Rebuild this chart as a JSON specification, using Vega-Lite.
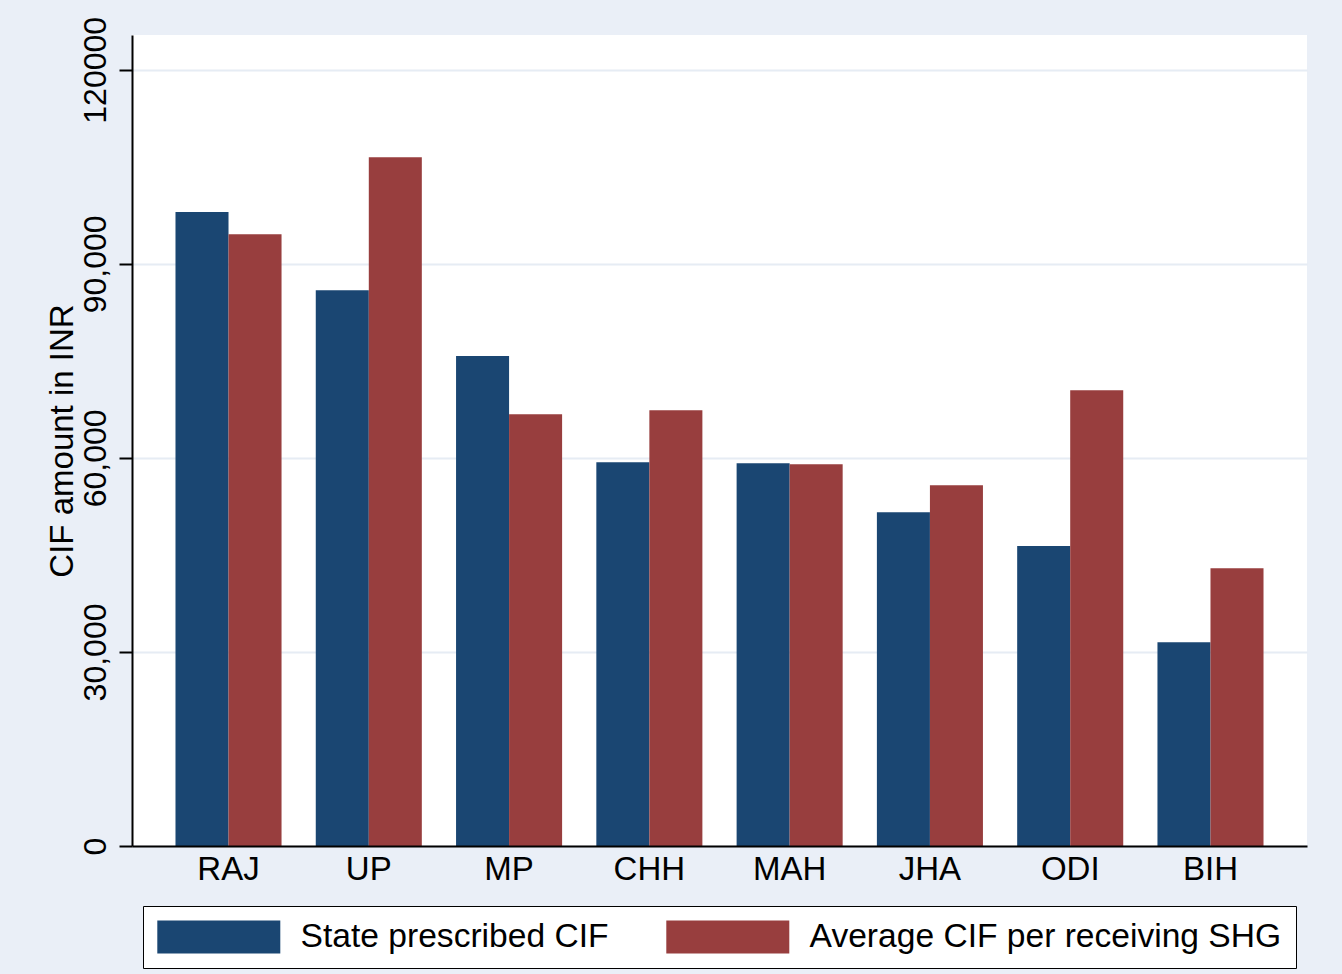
{
  "$schema": "https://vega.github.io/schema/vega-lite/v6.json",
  "width": 1175,
  "height": 811,
  "autosize": {"type": "none"},
  "padding": {"left": 132, "top": 35, "right": 35, "bottom": 128},
  "background": "#EAEFF7",
  "view": {"fill": "white", "stroke": null},
  "config": {"font": "Liberation Sans"},
  "data": {
    "values": [
      {"state": "RAJ", "series": "State prescribed CIF", "value": 98000},
      {"state": "RAJ", "series": "Average CIF per receiving SHG", "value": 94570},
      {"state": "UP", "series": "State prescribed CIF", "value": 85900},
      {"state": "UP", "series": "Average CIF per receiving SHG", "value": 106470},
      {"state": "MP", "series": "State prescribed CIF", "value": 75750},
      {"state": "MP", "series": "Average CIF per receiving SHG", "value": 66740},
      {"state": "CHH", "series": "State prescribed CIF", "value": 59320},
      {"state": "CHH", "series": "Average CIF per receiving SHG", "value": 67360},
      {"state": "MAH", "series": "State prescribed CIF", "value": 59170},
      {"state": "MAH", "series": "Average CIF per receiving SHG", "value": 59010},
      {"state": "JHA", "series": "State prescribed CIF", "value": 51590},
      {"state": "JHA", "series": "Average CIF per receiving SHG", "value": 55760},
      {"state": "ODI", "series": "State prescribed CIF", "value": 46380},
      {"state": "ODI", "series": "Average CIF per receiving SHG", "value": 70450},
      {"state": "BIH", "series": "State prescribed CIF", "value": 31490},
      {"state": "BIH", "series": "Average CIF per receiving SHG", "value": 42930}
    ]
  },
  "mark": {"type": "bar"},
  "encoding": {
    "x": {
      "field": "state",
      "type": "nominal",
      "sort": null,
      "scale": {"paddingInner": 0.244, "paddingOuter": 0.31},
      "axis": {
        "title": null,
        "labelAngle": 0,
        "ticks": false,
        "tickSize": 0,
        "domainColor": "black",
        "domainWidth": 2,
        "labelFontSize": 33,
        "labelColor": "black",
        "labelBaseline": "alphabetic",
        "labelPadding": 33,
        "grid": false,
        "zindex": 1
      }
    },
    "xOffset": {
      "field": "series",
      "type": "nominal",
      "sort": null,
      "scale": {"paddingInner": 0, "paddingOuter": 0}
    },
    "y": {
      "field": "value",
      "type": "quantitative",
      "scale": {"domain": [0, 125380], "nice": false},
      "axis": {
        "title": "CIF amount in INR",
        "values": [0, 30000, 60000, 90000, 120000],
        "labelExpr": "datum.value == 120000 ? '120000' : format(datum.value, ',')",
        "labelAngle": -90,
        "labelAlign": "center",
        "labelBaseline": "alphabetic",
        "labelPadding": 14,
        "tickSize": 13,
        "tickWidth": 2,
        "tickColor": "black",
        "domainColor": "black",
        "domainWidth": 2,
        "labelFontSize": 32,
        "labelColor": "black",
        "grid": true,
        "gridColor": "#E6ECF4",
        "gridWidth": 2,
        "titleFontSize": 33,
        "titleFontWeight": "normal",
        "titleColor": "black",
        "titleAngle": -90,
        "titleX": -60,
        "titleY": 405.5,
        "titleAlign": "center",
        "titleBaseline": "alphabetic"
      }
    },
    "color": {
      "field": "series",
      "type": "nominal",
      "sort": null,
      "scale": {
        "domain": ["State prescribed CIF", "Average CIF per receiving SHG"],
        "range": ["#1A4672", "#983E3E"]
      },
      "legend": {
        "title": null,
        "orient": "none",
        "legendX": 11,
        "legendY": 871,
        "direction": "horizontal",
        "columns": 2,
        "symbolType": "M-1,-1H6.4545V1H-1Z",
        "symbolSize": 1089,
        "symbolStrokeWidth": 0,
        "symbolOpacity": 1,
        "labelFontSize": 33.6,
        "labelColor": "black",
        "labelOffset": 110,
        "labelLimit": 0,
        "columnPadding": 57,
        "padding": 14,
        "strokeColor": "black",
        "fillColor": "white",
        "rowPadding": 0
      }
    }
  }
}
